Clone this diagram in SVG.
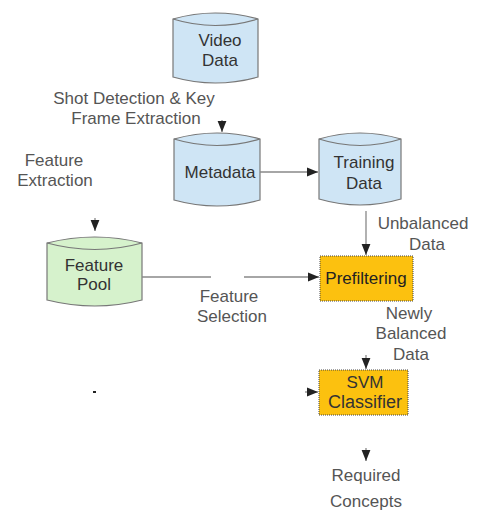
<svg xmlns="http://www.w3.org/2000/svg" width="490" height="523" viewBox="0 0 490 523">
<style>
.cyl{stroke:#777;stroke-width:1.2}
.blue{fill:#cfe5f5}
.green{fill:#d6f2cc}
.box{fill:#fcc10f;stroke:#444;stroke-width:1;stroke-dasharray:1 1}
.edge{stroke:#888;stroke-width:1.3;fill:none}
.nt{font-family:"Liberation Sans",Arial,sans-serif;font-size:17px;font-weight:normal;fill:#333;text-anchor:middle}
.lt{font-family:"Liberation Sans",Arial,sans-serif;font-size:17px;fill:#555;text-anchor:middle}
</style>
<defs>
<marker id="ah" viewBox="0 0 10 10" refX="10" refY="5" markerWidth="11" markerHeight="11" markerUnits="userSpaceOnUse" orient="auto">
<path d="M0,1 L10,5 L0,9 Z" fill="#222"/>
</marker>
</defs>
<g id="video-data">
<path class="cyl blue" d="M173,19 Q215,7 258,19 L258,77 Q215,89 173,77 Z"/>
<path class="cyl" fill="none" d="M173,19 Q215,32 258,19"/>
<text class="nt" x="220" y="46">Video</text>
<text class="nt" x="220" y="66">Data</text>
</g>
<g id="metadata">
<path class="cyl blue" d="M174,139 Q217,127 260,139 L260,200 Q217,212 174,200 Z"/>
<path class="cyl" fill="none" d="M174,139 Q217,152 260,139"/>
<text class="nt" x="220" y="178">Metadata</text>
</g>
<g id="training-data">
<path class="cyl blue" d="M319,139 Q360,127 401,139 L401,199 Q360,211 319,199 Z"/>
<path class="cyl" fill="none" d="M319,139 Q360,152 401,139"/>
<text class="nt" x="364" y="168">Training</text>
<text class="nt" x="364" y="189">Data</text>
</g>
<g id="feature-pool">
<path class="cyl green" d="M47,243 Q95,231 142,243 L142,300 Q95,312 47,300 Z"/>
<path class="cyl" fill="none" d="M47,243 Q95,256 142,243"/>
<text class="nt" x="94" y="271">Feature</text>
<text class="nt" x="94" y="290">Pool</text>
</g>
<g id="prefiltering">
<rect class="box" x="320" y="256" width="93" height="45"/>
<text class="nt" x="366" y="284" style="fill:#222">Prefiltering</text>
</g>
<g id="svm-classifier">
<rect class="box" x="319" y="370" width="89" height="45"/>
<text class="nt" x="365" y="388">SVM</text>
<text class="nt" x="365" y="408" style="font-size:18px">Classifier</text>
</g>
<g id="labels">
<text class="lt" x="134" y="104">Shot Detection &amp; Key</text>
<text class="lt" x="136" y="124">Frame Extraction</text>
<text class="lt" x="54" y="166">Feature</text>
<text class="lt" x="55" y="186">Extraction</text>
<text class="lt" x="423" y="229">Unbalanced</text>
<text class="lt" x="427" y="250">Data</text>
<text class="lt" x="409" y="319">Newly</text>
<text class="lt" x="411" y="339">Balanced</text>
<text class="lt" x="411" y="360">Data</text>
<text class="lt" x="229" y="302">Feature</text>
<text class="lt" x="232" y="322">Selection</text>
<text class="lt" x="366" y="481">Required</text>
<text class="lt" x="366" y="507">Concepts</text>
</g>
<g id="connectors">
<path class="edge" marker-end="url(#ah)" d="M222,120 L222,132"/>
<path class="edge" marker-end="url(#ah)" d="M260,172 L318,172"/>
<path class="edge" marker-end="url(#ah)" d="M366,211 L366,255"/>
<path class="edge" marker-end="url(#ah)" d="M95,218 L95,231"/>
<path class="edge" d="M142,277 L211,277"/>
<path class="edge" marker-end="url(#ah)" d="M244,277 L319,277"/>
<path class="edge" marker-end="url(#ah)" d="M366,355 L366,369"/>
<path class="edge" marker-end="url(#ah)" d="M305,392 L318,392"/>
<path class="edge" marker-end="url(#ah)" d="M366,448 L366,461"/>
<rect x="93" y="391" width="3" height="2" fill="#222"/>
</g>
</svg>
